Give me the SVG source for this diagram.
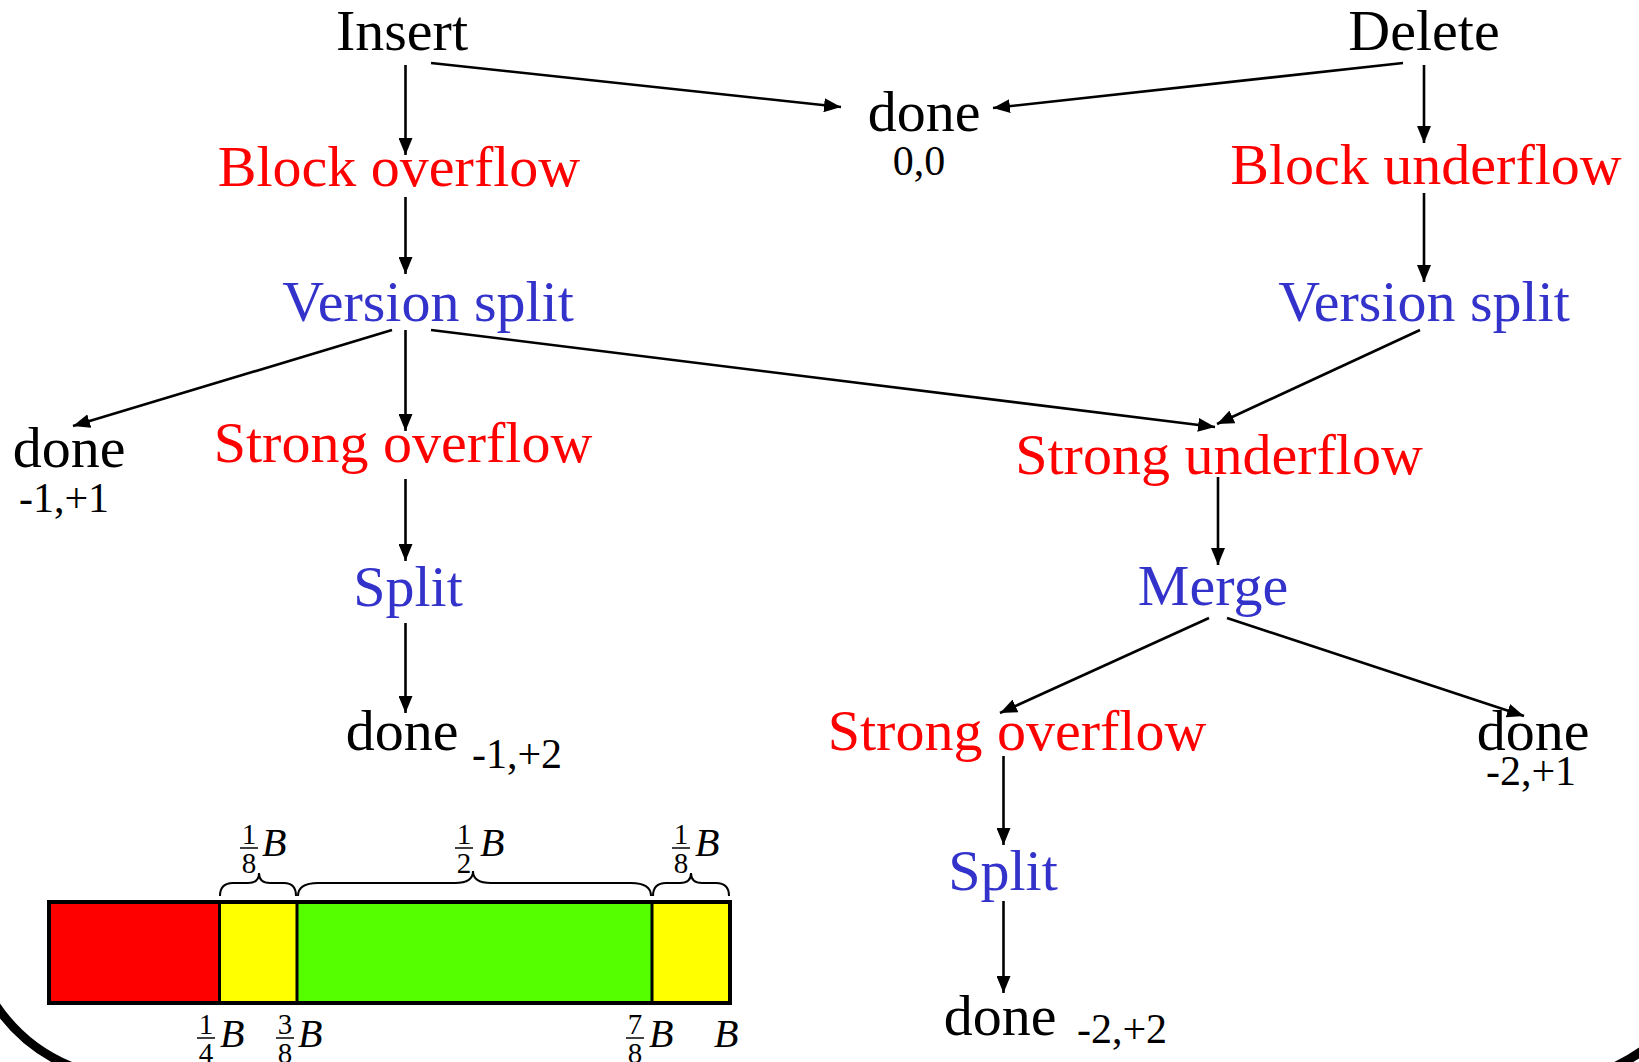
<svg xmlns="http://www.w3.org/2000/svg" width="1639" height="1062" viewBox="0 0 1639 1062">
<style>
text { font-family: "Liberation Serif", "Times New Roman", serif; text-anchor: middle; }
.big { font-size: 58px; }
.sub { font-size: 42px; fill: #000; }
.blk { fill: #000; }
.red { fill: #FF0000; }
.blu { fill: #3333CC; }
.edge { stroke: #000; stroke-width: 2.6; fill: none; marker-end: url(#ah); }
.brace { stroke: #000; stroke-width: 2; fill: none; }
.frac { font-size: 29px; }
.bi { font-size: 40px; font-style: italic; text-anchor: start; }
.fb { stroke: #000; stroke-width: 1.5; }
</style>
<defs>
<marker id="ah" markerUnits="userSpaceOnUse" markerWidth="18" markerHeight="14" refX="17" refY="7" orient="auto">
<path d="M0,0 L17,7 L0,14 Z" fill="#000"/>
</marker>
</defs>
<rect width="1639" height="1062" fill="#fff"/>

<g id="connectors">
<line class="edge" x1="405.5" y1="65" x2="405.5" y2="155"/>
<line class="edge" x1="431" y1="63" x2="841" y2="107"/>
<line class="edge" x1="1403" y1="63" x2="993" y2="108"/>
<line class="edge" x1="1424" y1="65" x2="1424" y2="143"/>
<line class="edge" x1="405.5" y1="197" x2="405.5" y2="274"/>
<line class="edge" x1="1424" y1="193" x2="1424" y2="282"/>
<line class="edge" x1="392" y1="330" x2="73" y2="426"/>
<line class="edge" x1="405.5" y1="330" x2="405.5" y2="431"/>
<line class="edge" x1="431" y1="330" x2="1215" y2="427"/>
<line class="edge" x1="1420" y1="330" x2="1217" y2="424"/>
<line class="edge" x1="405.5" y1="479" x2="405.5" y2="561"/>
<line class="edge" x1="1218" y1="477" x2="1218" y2="565"/>
<line class="edge" x1="405.5" y1="623" x2="405.5" y2="713"/>
<line class="edge" x1="1209" y1="618" x2="1000" y2="713"/>
<line class="edge" x1="1227" y1="618" x2="1524" y2="716"/>
<line class="edge" x1="1003.5" y1="756" x2="1003.5" y2="845"/>
<line class="edge" x1="1003.5" y1="901" x2="1003.5" y2="993"/>
</g>

<g id="n-insert"><text class="big blk" x="402" y="50">Insert</text></g>
<g id="n-delete"><text class="big blk" x="1424" y="50">Delete</text></g>
<g id="n-done00"><text class="big blk" x="924" y="131">done</text><text class="sub" x="919" y="175">0,0</text></g>
<g id="n-blockoverflow"><text class="big red" x="399" y="186">Block overflow</text></g>
<g id="n-blockunderflow"><text class="big red" x="1426" y="184">Block underflow</text></g>
<g id="n-versionsplit-l"><text class="big blu" x="428" y="321">Version split</text></g>
<g id="n-versionsplit-r"><text class="big blu" x="1424" y="321">Version split</text></g>
<g id="n-done-11"><text class="big blk" x="69" y="467">done</text><text class="sub" x="64" y="512">-1,+1</text></g>
<g id="n-strongoverflow-l"><text class="big red" x="403" y="462">Strong overflow</text></g>
<g id="n-strongunderflow"><text class="big red" x="1219" y="474">Strong underflow</text></g>
<g id="n-split-l"><text class="big blu" x="408" y="606">Split</text></g>
<g id="n-merge"><text class="big blu" x="1213" y="605">Merge</text></g>
<g id="n-done-12"><text class="big blk" x="402" y="750">done</text><text class="sub" x="517" y="768">-1,+2</text></g>
<g id="n-strongoverflow-r"><text class="big red" x="1017" y="750">Strong overflow</text></g>
<g id="n-done-21"><text class="big blk" x="1533" y="750">done</text><text class="sub" x="1531" y="785">-2,+1</text></g>
<g id="n-split-r"><text class="big blu" x="1003" y="890">Split</text></g>
<g id="n-done-22"><text class="big blk" x="1000" y="1035">done</text><text class="sub" x="1122" y="1043">-2,+2</text></g>

<g id="block-bar">
<rect x="49" y="902" width="170.5" height="101" fill="#FF0000"/>
<rect x="219.5" y="902" width="77.5" height="101" fill="#FFFF00"/>
<rect x="297" y="902" width="355" height="101" fill="#55FF00"/>
<rect x="652" y="902" width="78" height="101" fill="#FFFF00"/>
<rect x="49" y="902" width="681" height="101" fill="none" stroke="#000" stroke-width="4"/>
<line x1="219.5" y1="902" x2="219.5" y2="1003" stroke="#000" stroke-width="3"/>
<line x1="297" y1="902" x2="297" y2="1003" stroke="#000" stroke-width="3"/>
<line x1="652" y1="902" x2="652" y2="1003" stroke="#000" stroke-width="3"/>
<path class="brace" d="M220,896 Q220,883 233,883 L248,883 Q259,883 259,873 Q259,883 270,883 L284,883 Q296,883 296,896"/>
<path class="brace" d="M298,896 Q298,883 318,883 L455,883 Q473,883 473,871 Q473,883 491,883 L631,883 Q651,883 651,896"/>
<path class="brace" d="M653,896 Q653,883 666,883 L680,883 Q691,883 691,873 Q691,883 702,883 L716,883 Q729,883 729,896"/>
<g class="frac">
<text x="249" y="844">1</text><line class="fb" x1="240" y1="848" x2="258" y2="848"/><text x="249" y="873">8</text>
<text x="464" y="844">1</text><line class="fb" x1="455" y1="848" x2="473" y2="848"/><text x="464" y="873">2</text>
<text x="681" y="844">1</text><line class="fb" x1="672" y1="848" x2="690" y2="848"/><text x="681" y="873">8</text>
<text x="206" y="1034">1</text><line class="fb" x1="197" y1="1038" x2="215" y2="1038"/><text x="206" y="1063">4</text>
<text x="285" y="1034">3</text><line class="fb" x1="276" y1="1038" x2="294" y2="1038"/><text x="285" y="1063">8</text>
<text x="635" y="1034">7</text><line class="fb" x1="626" y1="1038" x2="644" y2="1038"/><text x="635" y="1063">8</text>
</g>
<text class="bi" x="262" y="856">B</text>
<text class="bi" x="480" y="856">B</text>
<text class="bi" x="695" y="856">B</text>
<text class="bi" x="220" y="1047">B</text>
<text class="bi" x="298" y="1047">B</text>
<text class="bi" x="649" y="1047">B</text>
<text class="bi" x="714" y="1047">B</text>
</g>

<g id="frame">
<path d="M-5,1004 A167,167 0 0 0 75,1068" stroke="#000" stroke-width="9" fill="none"/>
<path d="M1612,1068 Q1630,1060 1646,1048" stroke="#000" stroke-width="9" fill="none"/>
</g>
</svg>
